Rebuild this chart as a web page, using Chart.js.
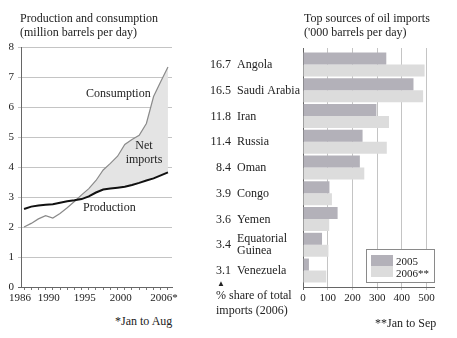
<!DOCTYPE html>
<html>
<head>
<meta charset="utf-8">
<script src="https://cdn.jsdelivr.net/npm/chart.js@4.4.0/dist/chart.umd.min.js"></script>
<style>
  body { margin: 0; background: #fff; width: 457px; height: 338px; overflow: hidden; }
  .wrap { position: relative; width: 457px; height: 338px; font-family: 'Liberation Serif', serif; color: #222; }
  .txt { position: absolute; font-size: 12px; line-height: 14px; white-space: nowrap; }
  canvas { position: absolute; top: 0; }
  #legend { position: absolute; left: 366px; top: 249px; width: 67px; height: 32px; border: 1px solid #8a8a8a; background: #fff; }
  #legend .sw { position: absolute; left: 4px; width: 22px; height: 11px; }
  #legend .lb { position: absolute; left: 29px; font-size: 11px; line-height: 12px; }
</style>
</head>
<body>
<div class="wrap">
  <canvas id="lineChart" width="200" height="310" style="left:0"></canvas>
  <canvas id="barChart" width="262" height="310" style="left:195px"></canvas>

  <div class="txt" style="left:20px; top:11px">Production and consumption</div>
  <div class="txt" style="left:20px; top:25px">(million barrels per day)</div>
  <div class="txt" style="left:86px; top:86px">Consumption</div>
  <div class="txt" style="left:127px; top:138px; width:34px; text-align:center">Net</div>
  <div class="txt" style="left:123px; top:152px; width:42px; text-align:center">imports</div>
  <div class="txt" style="left:83px; top:200px">Production</div>
  <div class="txt" style="left:115px; top:314px">*Jan to Aug</div>

  <div class="txt" style="left:304px; top:11px">Top sources of oil imports</div>
  <div class="txt" style="left:304px; top:25px">('000 barrels per day)</div>
  <div class="txt" style="left:217px; top:278px; font-size:8px; line-height:12px">&#9650;</div>
  <div class="txt" style="left:216px; top:288px">% share of total</div>
  <div class="txt" style="left:216px; top:303px">imports (2006)</div>
  <div class="txt" style="left:375px; top:316px">**Jan to Sep</div>

  <div id="legend">
    <div class="sw" style="top:5px" id="sw2005"></div>
    <div class="sw" style="top:16px" id="sw2006"></div>
    <div class="lb" style="top:5px">2005</div>
    <div class="lb" style="top:17px">2006**</div>
  </div>
</div>

<script>
// production and consumption, million barrels per day
const years = [1986, 1987, 1988, 1989, 1990, 1991, 1992, 1993, 1994, 1995, 1996,
               1997, 1998, 1999, 2000, 2001, 2002, 2003, 2004, 2005, 2006];
const production = [2.60, 2.68, 2.72, 2.74, 2.76, 2.81, 2.86, 2.89, 2.93, 3.02, 3.15,
                    3.25, 3.28, 3.31, 3.34, 3.40, 3.47, 3.55, 3.62, 3.72, 3.82];
const consumption = [2.00, 2.12, 2.27, 2.38, 2.30, 2.45, 2.64, 2.85, 3.07, 3.28, 3.55,
                     3.90, 4.12, 4.36, 4.75, 4.92, 5.06, 5.45, 6.35, 6.85, 7.33];
const yearLabels = { 1986: '1986', 1990: '1990', 1995: '1995', 2000: '2000', 2006: '2006*' };

// top sources of oil imports, '000 barrels per day
const countries = ['Angola', 'Saudi Arabia', 'Iran', 'Russia', 'Oman', 'Congo', 'Yemen',
                   ['Equatorial', 'Guinea'], 'Venezuela'];
const shares = ['16.7', '16.5', '11.8', '11.4', '8.4', '3.9', '3.6', '3.4', '3.1'];
const imports2005 = [337, 447, 297, 241, 230, 107, 140, 77, 24];
const imports2006 = [492, 486, 348, 339, 248, 117, 106, 103, 94];
const importTicks = [0, 100, 200, 300, 400, 500];

const COL_2005 = '#b3b1b9';
const COL_2006 = '#dcdcdc';
const GRID = '#c4c4c4';
const AXIS = '#666';

Chart.defaults.font.family = "'Liberation Serif', serif";
Chart.defaults.color = '#222';
Chart.defaults.animation = false;

document.getElementById('sw2005').style.background = COL_2005;
document.getElementById('sw2006').style.background = COL_2006;

// left: two lines with the gap between them shaded
new Chart(document.getElementById('lineChart'), {
  type: 'line',
  data: {
    datasets: [
      {
        label: 'Production',
        data: years.map((y, i) => ({ x: y, y: production[i] })),
        borderColor: '#111',
        borderWidth: 2,
        pointRadius: 0,
        fill: false
      },
      {
        label: 'Consumption',
        data: years.map((y, i) => ({ x: y, y: consumption[i] })),
        borderColor: '#8a8a8a',
        borderWidth: 1.2,
        pointRadius: 0,
        fill: { target: 0, above: '#e4e4e4', below: 'rgba(0,0,0,0)' }
      }
    ]
  },
  options: {
    responsive: false,
    layout: { padding: { top: 47, right: 28 } },
    plugins: { legend: { display: false }, tooltip: { enabled: false } },
    scales: {
      x: {
        type: 'linear',
        min: 1985.58,
        max: 2006.56,
        afterBuildTicks: (scale) => { scale.ticks = years.map(v => ({ value: v })); },
        afterFit: (scale) => { scale.height = 23; },
        ticks: {
          autoSkip: false,
          maxRotation: 0,
          padding: 2,
          labelOffset: -4,
          font: { size: 11 },
          callback: (v) => yearLabels[v] || ''
        },
        grid: { drawOnChartArea: false, tickLength: 3, color: '#777' },
        border: { color: AXIS }
      },
      y: {
        min: 0,
        max: 8,
        afterFit: (scale) => { scale.width = 21; },
        ticks: { stepSize: 1, padding: 4, font: { size: 11 } },
        grid: {
          tickLength: 3,
          color: (ctx) => (ctx.tick && ctx.tick.value === 0) ? AXIS : GRID
        },
        border: { color: AXIS }
      }
    }
  }
});

// category labels: share on the left, country name beside it
const rowLabels = {
  id: 'rowLabels',
  afterDraw(chart) {
    const ctx = chart.ctx;
    const ys = chart.scales.y;
    ctx.save();
    ctx.font = "12px 'Liberation Serif', serif";
    ctx.fillStyle = '#222';
    ctx.textBaseline = 'middle';
    countries.forEach((name, i) => {
      const y = ys.getPixelForValue(i) + 0.5;
      ctx.textAlign = 'right';
      ctx.fillText(shares[i], 36, y);
      ctx.textAlign = 'left';
      if (Array.isArray(name)) {
        ctx.fillText(name[0], 42, y - 6);
        ctx.fillText(name[1], 42, y + 6);
      } else {
        ctx.fillText(name, 42, y);
      }
    });
    ctx.restore();
  }
};

// right: grouped horizontal bars
new Chart(document.getElementById('barChart'), {
  type: 'bar',
  data: {
    datasets: [
      {
        label: '2005',
        data: imports2005.map((v, i) => ({ x: v, y: i })),
        backgroundColor: COL_2005
      },
      {
        label: '2006**',
        data: imports2006.map((v, i) => ({ x: v, y: i })),
        backgroundColor: COL_2006
      }
    ]
  },
  options: {
    indexAxis: 'y',
    responsive: false,
    layout: { padding: { top: 48, left: 108, right: 23 } },
    categoryPercentage: 0.93,
    barPercentage: 1,
    plugins: { legend: { display: false }, tooltip: { enabled: false } },
    scales: {
      x: {
        min: 0,
        max: 530,
        afterBuildTicks: (scale) => { scale.ticks = importTicks.map(v => ({ value: v })); },
        afterFit: (scale) => { scale.height = 23; },
        ticks: { padding: 2, font: { size: 11 } },
        grid: {
          tickLength: 3,
          color: (ctx) => (ctx.tick && ctx.tick.value === 0) ? AXIS : GRID
        },
        border: { color: AXIS }
      },
      y: {
        type: 'linear',
        reverse: true,
        offset: false,
        min: -0.64,
        max: 8.64,
        afterBuildTicks: (scale) => { scale.ticks = countries.map((c, i) => ({ value: i })); },
        display: false
      }
    }
  },
  plugins: [rowLabels]
});
</script>
</body>
</html>
